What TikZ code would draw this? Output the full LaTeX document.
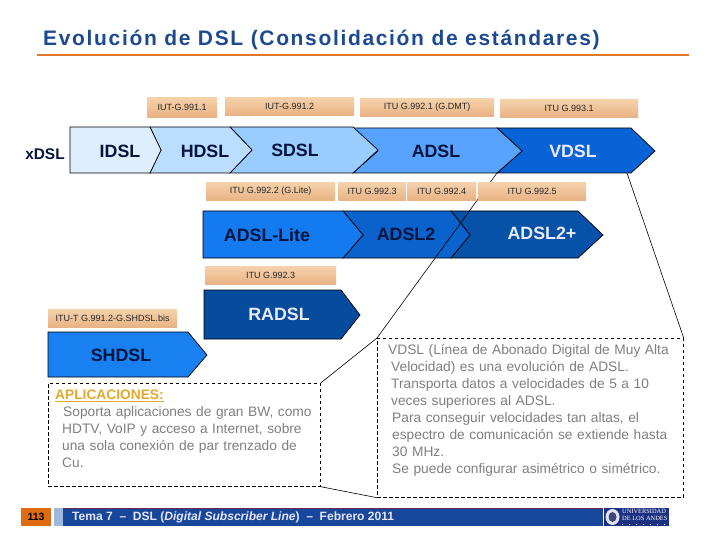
\documentclass[tikz,border=0pt]{standalone}
\usepackage{fontspec}
\setmainfont{Liberation Sans}
\newfontfamily\logofont{Liberation Serif}
\definecolor{tanA}{HTML}{F6D2AC}
\definecolor{tanB}{HTML}{E8B284}
\definecolor{txtgray}{HTML}{7F7F7F}
\definecolor{navyT}{HTML}{04143C}
\definecolor{titleblue}{HTML}{1C4A90}
\tikzset{
  chev/.style={draw=black,line width=0.7pt,line join=miter},
  tanbox/.style={minimum height=18.5pt,inner sep=0pt,top color=tanA,bottom color=tanB,draw=none,font=\fontsize{9}{10}\selectfont,text=black!85,anchor=north west},
  ctitle/.style={font=\bfseries\fontsize{17.8}{20}\selectfont,text=navyT},
  wtitle/.style={font=\bfseries\fontsize{17.8}{20}\selectfont,text=white!92!blue},
  leader/.style={draw=black,line width=0.6pt},
  dbox/.style={draw=black,line width=0.7pt,dashed,dash pattern=on 3.5pt off 2.5pt,anchor=north west,inner sep=0pt},
  para/.style={text=txtgray,font=\fontsize{13.75}{17}\selectfont,align=left,anchor=north west,inner sep=0pt}
}
\begin{document}
\begin{tikzpicture}[x=1pt,y=-1pt]
\useasboundingbox (0,0) rectangle (720,540);
\fill[white] (0,0) rectangle (720,540);
% title
\node[anchor=west,inner sep=0pt,text=titleblue] (title) at (43,40) {\fontsize{21}{23}\selectfont\bfseries\addfontfeature{LetterSpace=7.9}Evolución de DSL (Consolidación de estándares)};
\fill[color={rgb,255:red,224;green,120;blue,40}] (37,54) rectangle (689,56);
% top row chevrons, drawn right to left
\coordinate (vb) at (497,173);
\coordinate (pb) at (627,173);
\path[chev,fill={rgb,255:red,8;green,100;blue,214}] (497,128) -- (631,128) -- (655,151) -- (631,173) -- (497,173) -- (522,151) -- cycle;
\path[chev,fill={rgb,255:red,88;green,163;blue,255}] (353,128) -- (497,128) -- (522,151) -- (497,173) -- (353,173) -- (378,151) -- cycle;
\path[chev,fill={rgb,255:red,153;green,204;blue,255}] (230,127) -- (353,127) -- (378,150) -- (353,173) -- (230,173) -- (252,150) -- cycle;
\path[chev,fill={rgb,255:red,187;green,221;blue,255}] (150,127) -- (230,127) -- (252,150) -- (230,173) -- (150,173) -- (161,150) -- cycle;
\path[chev,fill={rgb,255:red,221;green,238;blue,255}] (70,127) -- (150,127) -- (161,150) -- (150,173) -- (70,173) -- cycle;
\node[ctitle] (idsl) at (120,151) {IDSL};
\node[ctitle] (hdsl) at (205,151) {HDSL};
\node[ctitle] (sdsl) at (295,150) {SDSL};
\node[ctitle] (adsl) at (436,151) {ADSL};
\node[wtitle] (vdsl) at (573,151) {VDSL};
\node[font=\bfseries\fontsize{15.4}{17}\selectfont,text=navyT] (xdsl) at (45,154) {xDSL};
% second row
\path[chev,fill={rgb,255:red,5;green,82;blue,168}] (451,211) -- (578,211) -- (603,235) -- (578,258) -- (451,258) -- (470,235) -- cycle;
\path[chev,fill={rgb,255:red,10;green,98;blue,204}] (343,211) -- (451,211) -- (470,235) -- (451,258) -- (343,258) -- (363,235) -- cycle;
\path[chev,fill={rgb,255:red,20;green,122;blue,240}] (203,211) -- (343,211) -- (363,235) -- (343,258) -- (203,258) -- cycle;
\node[ctitle] (alite) at (267,235) {ADSL-Lite};
\node[ctitle] (adsl2) at (406,234) {ADSL2};
\node[wtitle] (adslp) at (542,233) {ADSL2+};
% radsl and shdsl
\path[chev,fill={rgb,255:red,5;green,76;blue,156}] (204,290) -- (341,290) -- (360,315) -- (341,339) -- (204,339) -- cycle;
\node[wtitle] (radsl) at (279,314) {RADSL};
\path[chev,fill={rgb,255:red,24;green,128;blue,240}] (48,332) -- (188,332) -- (207,355) -- (188,377) -- (48,377) -- cycle;
\node[ctitle] (shdsl) at (121,355) {SHDSL};
% leaders
\node[dbox,minimum width=306pt,minimum height=159pt] (vbox) at (377,338) {};
\node[dbox,minimum width=272pt,minimum height=103pt] (abox) at (48,383) {};
\draw[leader] (vb) -- (vbox.north west);
\draw[leader] (pb) -- (vbox.north east);
\draw[leader] (abox.north east) -- (vbox.north west);
\draw[leader] (abox.south east) -- (vbox.south west);
% standards labels
\node[tanbox,minimum width=70pt,minimum height=20pt] (a1) at (147,97) {IUT-G.991.1};
\node[tanbox,minimum width=129pt] (a2) at (225,97) {IUT-G.991.2};
\node[tanbox,minimum width=134pt] (a3) at (360,98) {ITU G.992.1 (G.DMT)};
\node[tanbox,minimum width=138pt] (a4) at (500,99) {ITU G.993.1};
\node[tanbox,minimum width=129pt] (b1) at (206,182) {ITU G.992.2 (G.Lite)};
\node[tanbox,minimum width=68pt] (b2) at (338,182) {ITU G.992.3};
\node[tanbox,minimum width=69pt] (b3) at (407,182) {ITU G.992.4};
\node[tanbox,minimum width=108pt] (b4) at (478,182) {ITU G.992.5};
\node[tanbox,minimum width=131pt] (c1) at (205,266) {ITU G.992.3};
\node[tanbox,minimum width=129pt] (d1) at (48,309) {ITU-T G.991.2-G.SHDSL.bis};
% text boxes
\node[para,text width=268pt] (atxt) at (55,390) {\textcolor[HTML]{E0A92E}{\bfseries\underline{APLICACIONES:}}\\
\hspace*{8pt}Soporta aplicaciones de gran BW, como\\
\hspace*{7pt}HDTV, VoIP y acceso a Internet, sobre\\
\hspace*{7pt}una sola conexión de par trenzado de\\
\hspace*{7pt}Cu.};
\node[para,text width=295pt] (vtxt) at (388,344.5) {VDSL (Línea de Abonado Digital de Muy Alta\\
\hspace*{3pt}Velocidad) es una evolución de ADSL.\\
\hspace*{3pt}Transporta datos a velocidades de 5 a 10\\
\hspace*{3pt}veces superiores al ADSL.\\
\hspace*{4pt}Para conseguir velocidades tan altas, el\\
\hspace*{4pt}espectro de comunicación se extiende hasta\\
\hspace*{4pt}30 MHz.\\
\hspace*{4pt}Se puede configurar asimétrico o simétrico.};
% footer
\fill[color={rgb,255:red,224;green,106;blue,16}] (21,508) rectangle (51,526);
\node[font=\bfseries\fontsize{10.5}{12}\selectfont,text=black] (num) at (36,517) {113};
\fill[color={rgb,255:red,156;green,184;blue,220}] (54,508) rectangle (63,526);
\fill[color={rgb,255:red,23;green,71;blue,154}] (63,508) rectangle (603,526);
\fill[color={rgb,255:red,110;green,40;blue,80}] (63,508) rectangle (603,509);
\node[anchor=west,inner sep=0pt,text=white!90!blue,font=\bfseries\fontsize{12.05}{13}\selectfont] (foot) at (72,517.5) {Tema 7 ~--~ DSL (\textit{Digital Subscriber Line}) ~--~ Febrero 2011};
\fill[color={rgb,255:red,28;green,48;blue,130}] (604,508) rectangle (669,526);
\fill[color={rgb,255:red,225;green,228;blue,240}] (612.5,517) ellipse [x radius=7pt,y radius=8pt];
\fill[color={rgb,255:red,60;green,70;blue,120}] (612.5,517) ellipse [x radius=4pt,y radius=5pt];
\node[anchor=north west,inner sep=0pt,text=white,font=\logofont\fontsize{6.4}{6.6}\selectfont,align=left] (logo) at (622,509) {UNIVERSIDAD\\DE LOS ANDES};
\draw[white,line width=0.7pt,dash pattern=on 1pt off 6pt] (622,524) -- (669,524);
\end{tikzpicture}
\end{document}
